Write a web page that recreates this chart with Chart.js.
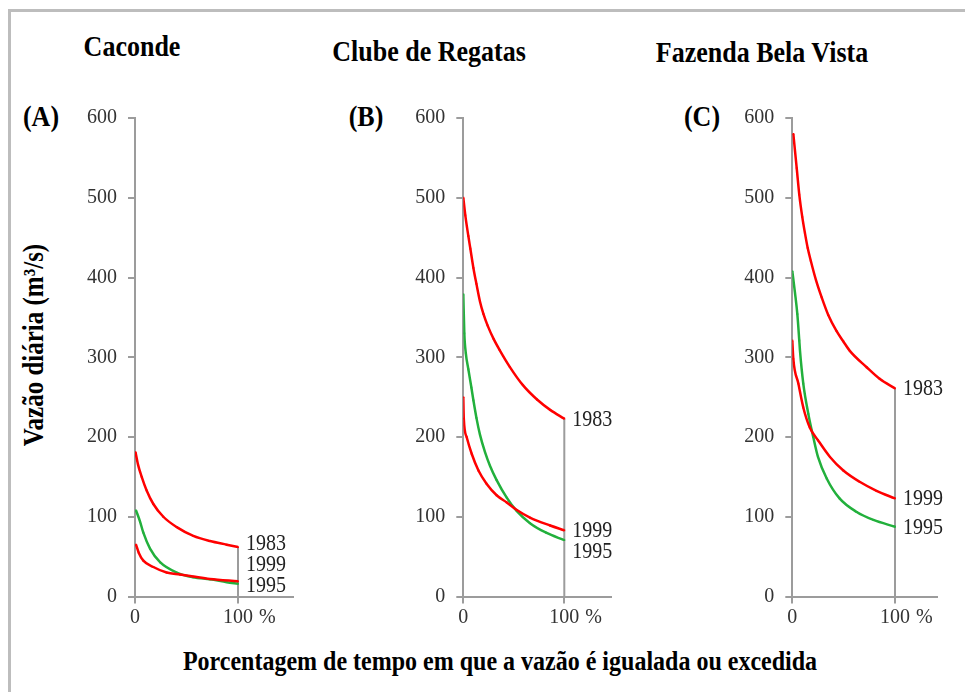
<!DOCTYPE html>
<html><head><meta charset="utf-8">
<script src="https://cdn.jsdelivr.net/npm/chart.js@4.4.1/dist/chart.umd.min.js"></script>
<style>
html,body{margin:0;padding:0;background:#fff;width:965px;height:692px;overflow:hidden;position:relative;}
.frame{position:absolute;left:8px;top:9px;width:990px;height:720px;border-left:3px solid #bdbdbd;border-top:3px solid #bdbdbd;}
.t{position:absolute;font-family:'Liberation Serif','Times New Roman',serif;font-weight:bold;color:#000;white-space:nowrap;line-height:1;transform:translate(-50%,-50%) scaleY(1.15);}
.rot{transform:translate(-50%,-50%) rotate(-90deg) scaleY(1.15);}
canvas{position:absolute;}
</style></head><body>
<div class="frame"></div>
<div class="t" style="left:132px;top:47px;font-size:26px">Caconde</div>
<div class="t" style="left:429px;top:52px;font-size:26px">Clube de Regatas</div>
<div class="t" style="left:762px;top:53px;font-size:26px">Fazenda Bela Vista</div>
<div class="t" style="left:41px;top:117px;font-size:26px">(A)</div>
<div class="t" style="left:366px;top:117px;font-size:26px">(B)</div>
<div class="t" style="left:702px;top:117px;font-size:26px">(C)</div>
<div class="t rot" style="left:33px;top:345px;font-size:25px">Vazão diária (m³/s)</div>
<div class="t" style="left:500px;top:661px;font-size:24px">Porcentagem de tempo em que a vazão é igualada ou excedida</div>
<script>
// ---- data (percent of time exceeded, daily flow m3/s) ----
const yearLabels = ['1983', '1999', '1995'];
const xTickValues = [0, 100];
const xTickLabels = ['0', '100'];
const yTickValues = [0, 100, 200, 300, 400, 500, 600];

// (A) Caconde
const pctA1983 = [0.5, 3, 6.5, 11.3, 17.8, 27.5, 40.5, 56.6, 72.8, 89, 100];
const vazA1983 = [181, 165, 150, 133, 116, 100, 87, 76, 69.5, 65, 62];
const pctA1999 = [1, 3.6, 8.1, 17.8, 30.7, 43.7, 56.6, 72.8, 100];
const vazA1999 = [65, 55, 45, 37, 30, 27.5, 25, 22, 19];
const pctA1995 = [1, 4.9, 8.1, 14.6, 24.3, 40.5, 56.6, 72.8, 89, 100];
const vazA1995 = [108, 94, 80, 60, 43, 30, 24, 21.5, 18, 16];

// (B) Clube de Regatas
const pctB1983 = [0, 2, 5, 7, 10, 13, 16.5, 20, 24, 30, 36, 46, 59, 73, 86, 100];
const vazB1983 = [500, 478, 452, 436, 412, 392, 370, 354, 340, 323, 309, 288, 265, 247, 234, 223];
const pctB1999 = [0, 0.5, 3.3, 8.3, 15, 23, 33, 43, 53, 66, 86, 100];
const vazB1999 = [250, 223, 200, 179, 158, 141.5, 127, 118, 108.5, 99, 89, 83];
const pctB1995 = [0, 1, 2.5, 5, 8, 10, 13, 16.5, 21.5, 26.4, 33, 43, 53, 66, 82, 100];
const vazB1995 = [379, 330, 305, 285, 262, 246, 224, 203, 181, 164, 146, 124, 107, 92, 80, 70.6];

// (C) Fazenda Bela Vista
const pctC1983 = [1, 4.3, 6.8, 9.7, 12.4, 15, 18, 23, 28.6, 35, 43, 49.6, 56, 72.4, 85, 100];
const vazC1983 = [580, 537, 504, 476, 455, 437, 421, 397, 375, 353, 333, 320, 308, 287.5, 273, 261];
const pctC1999 = [0, 1, 5.9, 10.7, 17, 25, 36.7, 49.7, 66, 82, 100];
const vazC1999 = [321, 298, 267, 237, 212, 196, 175, 158, 143.5, 132.5, 123];
const pctC1995 = [0, 2.6, 4.9, 6.8, 7.5, 10.7, 15.6, 20.4, 25, 33.5, 46, 62.7, 79, 100];
const vazC1995 = [408, 381, 354, 321, 308, 267, 229, 200, 175, 148, 123, 106, 96, 87.5];

// ---- layout / style ----
const seriesColors = ['#ff0000', '#ff0000', '#22b03c'];
const axisGray = '#9c9c9c';
const tickFont = {family: "'Liberation Serif','Times New Roman',serif", size: 20};
const yTopPx = 116.5, yBotPx = 596.5, canvasTop = 95, canvasBottom = 645;

const panels = [
  {series: [[pctA1983, vazA1983], [pctA1999, vazA1999], [pctA1995, vazA1995]], x0: 135, pxPer: 1.03, xMax: 153},
  {series: [[pctB1983, vazB1983], [pctB1999, vazB1999], [pctB1995, vazB1995]], x0: 463.3, pxPer: 1.01, xMax: 146},
  {series: [[pctC1983, vazC1983], [pctC1999, vazC1999], [pctC1995, vazC1995]], x0: 792.3, pxPer: 1.027, xMax: 141}
];

const endLabelPlugin = {
  id: 'endLabels',
  afterDraw(chart) {
    const ctx = chart.ctx, xs = chart.scales.x, ys = chart.scales.y;
    const x100 = xs.getPixelForValue(100);
    const items = chart.data.datasets.filter(d => !d.isRef).map(d => ({
      text: d.label, y: ys.getPixelForValue(d.data[d.data.length - 1].y) + 1
    }));
    items.sort((a, b) => a.y - b.y);
    const gap = 21, maxY = ys.getPixelForValue(0) - 11;
    for (let i = 1; i < items.length; i++) if (items[i].y < items[i - 1].y + gap) items[i].y = items[i - 1].y + gap;
    const n = items.length;
    if (items[n - 1].y > maxY) {
      items[n - 1].y = maxY;
      for (let i = n - 2; i >= 0; i--) if (items[i].y > items[i + 1].y - gap) items[i].y = items[i + 1].y - gap;
    }
    ctx.save();
    ctx.font = "20px 'Liberation Serif','Times New Roman',serif";
    ctx.fillStyle = '#222';
    ctx.textBaseline = 'middle';
    ctx.textAlign = 'left';
    items.forEach(it => {
      ctx.save(); ctx.translate(x100 + 8, it.y); ctx.scale(1, 1.15); ctx.fillText(it.text, 0, 0); ctx.restore();
    });
    ctx.fillStyle = '#333';
    ctx.fillText('%', x100 + 21, xs.top + 7 + 2 + 12);
    ctx.restore();
  }
};

panels.forEach(p => {
  const L = Math.floor(p.x0 - 85);
  const right = p.x0 + p.pxPer * p.xMax;
  const W = Math.ceil(right - L + 15);
  const T = canvasTop, H = canvasBottom - canvasTop;
  const cv = document.createElement('canvas');
  cv.width = W; cv.height = H;
  cv.style.left = L + 'px'; cv.style.top = T + 'px';
  cv.style.width = W + 'px'; cv.style.height = H + 'px';
  document.body.appendChild(cv);

  const datasets = p.series.map((s, i) => ({
    label: yearLabels[i],
    data: s[0].map((x, j) => ({x: x, y: s[1][j]})),
    borderColor: seriesColors[i],
    backgroundColor: seriesColors[i],
    borderWidth: 2.5,
    pointRadius: 1.3,
    pointStyle: 'rect',
    pointBorderWidth: 0,
    cubicInterpolationMode: 'monotone',
    fill: false
  }));
  const top = p.series[0][1];
  datasets.push({
    label: 'ref', isRef: true,
    data: [{x: 100, y: 0}, {x: 100, y: top[top.length - 1]}],
    borderColor: axisGray, borderWidth: 2, pointRadius: 0, fill: false
  });

  new Chart(cv, {
    type: 'line',
    data: {datasets},
    options: {
      responsive: false, animation: false, devicePixelRatio: 1,
      layout: {padding: {top: yTopPx - T, right: (L + W) - right, left: 0, bottom: 0}},
      plugins: {legend: {display: false}, tooltip: {enabled: false}},
      scales: {
        x: {
          type: 'linear', min: 0, max: p.xMax,
          afterBuildTicks: s => { s.ticks = xTickValues.map(v => ({value: v})); },
          afterFit: s => { s.height = (T + H) - yBotPx; },
          ticks: {callback: v => xTickLabels[xTickValues.indexOf(v)], font: tickFont, color: '#333', padding: 2, maxRotation: 0, autoSkip: false},
          grid: {drawOnChartArea: false, drawTicks: true, tickLength: 7, color: axisGray, lineWidth: 2},
          border: {color: axisGray, width: 2}
        },
        y: {
          type: 'linear', min: 0, max: 600,
          afterBuildTicks: s => { s.ticks = yTickValues.map(v => ({value: v})); },
          afterFit: s => { s.width = p.x0 - L; },
          ticks: {font: tickFont, color: '#333', padding: 11},
          grid: {drawOnChartArea: false, drawTicks: true, tickLength: 7, color: axisGray, lineWidth: 2},
          border: {color: axisGray, width: 2}
        }
      }
    },
    plugins: [endLabelPlugin]
  });
});
</script>
</body></html>
